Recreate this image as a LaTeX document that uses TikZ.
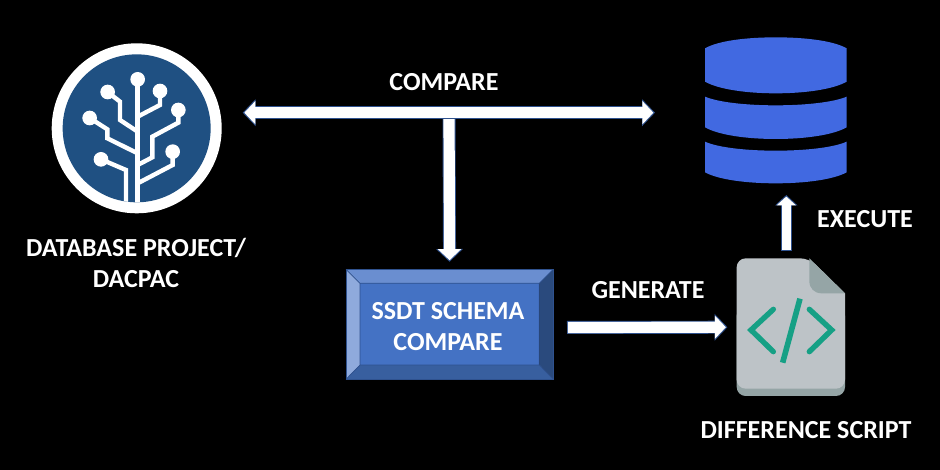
\documentclass[tikz,border=0pt]{standalone}
\usepackage{fontspec}
\setmainfont{Carlito}
\usetikzlibrary{arrows.meta}
\definecolor{rimblue}{HTML}{2F528F}
\definecolor{boxmid}{HTML}{4472C4}
\definecolor{boxtop}{HTML}{6A8ED0}
\definecolor{boxleft}{HTML}{8FAADC}
\definecolor{boxright}{HTML}{2A4A7D}
\definecolor{boxbot}{HTML}{385F9F}
\definecolor{dbblue}{HTML}{4169E1}
\definecolor{logoblue}{HTML}{1F5082}
\definecolor{filegray}{HTML}{BDC3C7}
\definecolor{filedark}{HTML}{95A5A6}
\definecolor{codegreen}{HTML}{16A085}
\tikzset{
  label/.style={text=white,font=\fontsize{26}{31}\selectfont\bfseries,align=center,inner sep=0pt},
  rim/.style={draw=rimblue,line width=13pt,>={Triangle[length=12.8pt,width=26pt]}},
  core/.style={draw=white,line width=11.2pt,shorten >=1.6pt,shorten <=.9pt,>={Triangle[length=11pt,width=22.6pt]}},
  rimsmall/.style={draw=rimblue,line width=11pt,>={Triangle[length=10.5pt,width=22pt]}},
  coresmall/.style={draw=white,line width=9.4pt,shorten >=1.6pt,shorten <=.8pt,>={Triangle[length=8.8pt,width=19pt]}},
  branch/.style={draw=white,line width=4.4pt,line join=miter},
  bud/.style={fill=white},
  code/.style={draw=codegreen,line width=5.4pt,line cap=round,line join=miter}
}
\begin{document}
\begin{tikzpicture}[x=1pt,y=-1pt]
\useasboundingbox (0,0) rectangle (940,470);
\fill[black] (0,0) rectangle (940,470);

% logo
\node[circle,fill=white,minimum size=170pt,inner sep=0pt] (logo) at (136.7,128.3) {};
\begin{scope}[shift={(30,30)},scale=1/3]
  \fill[logoblue] (320,295) circle (222);
  \begin{scope}
    \clip (320,295) circle (222);
    \draw[branch] (323,530) -- (323,148);
    \draw[branch] (288,530) -- (288,420) -- (213,388);
    \draw[branch] (323,260) -- (390,225) -- (390,183);
    \draw[branch] (233,186) -- (270,215) -- (270,270) -- (323,305);
    \draw[branch] (179,264) -- (232,298) -- (232,325) -- (323,370);
    \draw[branch] (445,240) -- (445,278) -- (367,320) -- (367,382) -- (323,405);
    \draw[branch] (428,365) -- (428,405) -- (323,460);
  \end{scope}
  \foreach \p in {(323,148),(390,183),(233,186),(445,240),(179,264),(428,365),(213,388)}
    \fill[bud] \p circle (22);
\end{scope}

% database
\begin{scope}[shift={(680,20)},scale=1/3]
  \fill[dbblue] (75,85) .. controls (115,62) and (200,52) .. (287,52) .. controls (375,52) and (460,62) .. (500,85)
    -- (500,185) .. controls (460,208) and (375,220) .. (287,220) .. controls (200,220) and (115,208) .. (75,185) -- cycle;
  \fill[dbblue] (75,230) .. controls (115,247) and (200,256) .. (287,256) .. controls (375,256) and (460,247) .. (500,230)
    -- (500,322) .. controls (460,345) and (375,357) .. (287,357) .. controls (200,357) and (115,345) .. (75,322) -- cycle;
  \fill[dbblue] (75,365) .. controls (115,383) and (200,392) .. (287,392) .. controls (375,392) and (460,383) .. (500,365)
    -- (500,457) .. controls (460,479) and (375,490) .. (287,490) .. controls (200,490) and (115,479) .. (75,457) -- cycle;
\end{scope}

% bevelled box
\node[minimum width=207.3pt,minimum height=110pt,inner sep=0pt] (box) at (449.6,324.3) {};
\fill[boxtop] (346,269.3) -- (553.3,269.3) -- (539.3,283.3) -- (360,283.3) -- cycle;
\fill[boxleft] (346,269.3) -- (360,283.3) -- (360,365) -- (346,379.3) -- cycle;
\fill[boxright] (553.3,269.3) -- (553.3,379.3) -- (539.3,365) -- (539.3,283.3) -- cycle;
\fill[boxbot] (346,379.3) -- (360,365) -- (539.3,365) -- (553.3,379.3) -- cycle;
\fill[boxmid] (360,283.3) rectangle (539.3,365);
\draw[rimblue,line width=1pt] (346,269.3) rectangle (553.3,379.3);
\draw[rimblue,line width=.7pt] (360,283.3) rectangle (539.3,365)
  (346,269.3) -- (360,283.3) (553.3,269.3) -- (539.3,283.3) (346,379.3) -- (360,365) (553.3,379.3) -- (539.3,365);
\node[label] (boxtext) at (448,326.5) {SSDT SCHEMA\\[0pt]COMPARE};

% script file
\node[minimum width=108.3pt,minimum height=137.7pt,inner sep=0pt] (file) at (790.8,327.2) {};
\begin{scope}[shift={(680,240)},scale=1/3]
  \fill[filedark,rounded corners=9pt] (170,200) -- (170,468) -- (495,468) -- (495,200) -- cycle;
  \fill[filegray,rounded corners=9pt] (388,55) [sharp corners] -- (495,160) [rounded corners=9pt] -- (495,446) -- (170,446) -- (170,55) -- cycle;
  \fill[filedark] (388,55) -- (495,160) -- (425,160) .. controls (403,160) and (388,145) .. (388,123) -- cycle;
  \draw[code] (280,208) -- (213,270) -- (280,335);
  \draw[code] (388,208) -- (455,270) -- (388,335);
  \draw[codegreen,line width=5.6pt] (360,176) -- (308,368);
\end{scope}

% connectors
\coordinate (cmpL) at (242.7,112.7);
\coordinate (cmpR) at (655,112.7);
\coordinate (cmpM) at (449,113);
\coordinate (genS) at (567,327.5);
\coordinate (exeS) at (786.3,251);
\coordinate (exeE) at (786.3,195);

\draw[rim,->] (cmpM) -- (box.north) [shorten >=7.3pt];
\draw[core,->] (cmpM) -- (box.north) [shorten >=8.9pt];
\draw[rim,<->] (cmpL) -- (cmpR);
\draw[core,<->,shorten <=1.6pt] (cmpL) -- (cmpR);
\draw[rim,->] (genS) -- (file.west) [shorten >=9pt];
\draw[core,->] (genS) -- (file.west) [shorten >=10.6pt];
\draw[rimsmall,->] (exeS) -- (exeE);
\draw[coresmall,->] (exeS) -- (exeE);

% labels
\node[label] (lcompare) at (444,82.5) {COMPARE};
\node[label] (lproject) at (136,262.5) {DATABASE PROJECT/\\[0pt]DACPAC};
\node[label] (lgenerate) at (648,290) {GENERATE};
\node[label] (lexecute) at (865,219) {EXECUTE};
\node[label] (ldiff) at (806,430) {DIFFERENCE SCRIPT};
\end{tikzpicture}
\end{document}
